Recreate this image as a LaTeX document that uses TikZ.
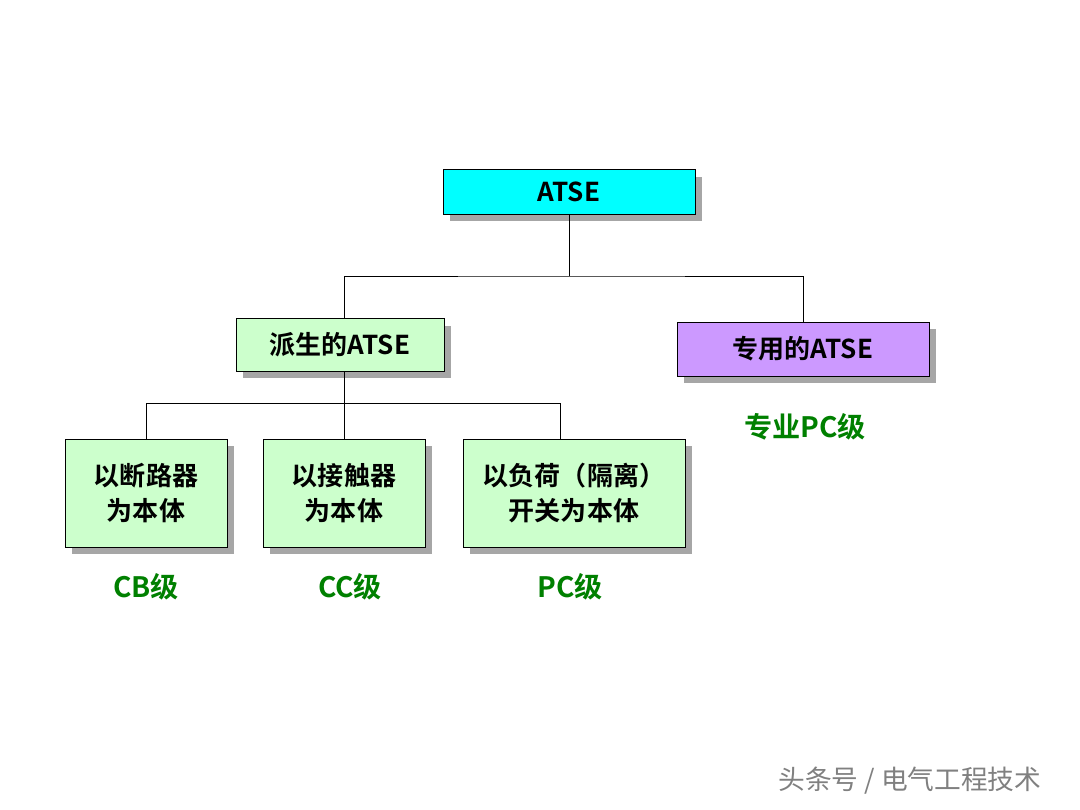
\documentclass[tikz,border=0pt]{standalone}
\usepackage{fontspec}
\setmainfont{Noto Sans CJK SC}[BoldFont={Noto Sans CJK SC Bold}]
\usetikzlibrary{positioning,shadows}
\definecolor{boxcyan}{RGB}{0,255,255}
\definecolor{boxgreen}{RGB}{204,255,204}
\definecolor{boxviolet}{RGB}{204,153,255}
\definecolor{labgreen}{RGB}{0,128,0}
\tikzset{
  box/.style={draw=black, semithick, align=center, inner sep=1pt,
    font=\bfseries\fontsize{18.5pt}{25pt}\selectfont,
    drop shadow={shadow xshift=5pt, shadow yshift=-5pt, fill=gray!70, opacity=1}},
  grade/.style={text=labgreen, font=\bfseries\fontsize{20pt}{24pt}\selectfont},
  link/.style={draw=black}
}
\begin{document}
\begin{tikzpicture}[x=0.025cm,y=-0.025cm]
\useasboundingbox[fill=white] (0,0) rectangle (1080,810);
% top
\node[box, fill=boxcyan, minimum width=6.3cm, minimum height=1.12cm] (atse) at (569,192) {ATSE};
% second level
\node[box, fill=boxgreen, minimum width=5.2cm, minimum height=1.32cm] (derived) at (340,345) {派生的ATSE};
\node[box, fill=boxviolet, minimum width=6.3cm, minimum height=1.35cm] (special) at (803,349) {专用的ATSE};
% third level
\node[box, fill=boxgreen, minimum width=4.05cm, minimum height=2.7cm] (cb) at (146,493) {以断路器\\为本体};
\node[box, fill=boxgreen, minimum width=4.05cm, minimum height=2.7cm] (cc) at (344,493) {以接触器\\为本体};
\node[box, fill=boxgreen, minimum width=5.55cm, minimum height=2.7cm] (pc) at (574,493) {以负荷（隔离）\\开关为本体};
% grades
\node[grade] (gsp) at (805,427) {专业PC级};
\node[grade] (gcb) at (146,587) {CB级};
\node[grade] (gcc) at (350,587) {CC级};
\node[grade] (gpc) at (570,587) {PC级};
% connectors
\coordinate (j1) at (569,276);
\coordinate (j2) at (344,403);
\draw[link] (atse.south) -- (j1);
\draw[link] (derived.north -| 344,0) |- (j1) -| (special.north);
\draw[link] (derived.south -| j2) -- (j2);
\draw[link] (cb.north) |- (j2) -| (cc.north);
\draw[link] (j2) -| ([xshift=-0.35cm]pc.north);
% watermark
\node[text=gray, font=\fontsize{19pt}{22pt}\selectfont] (mark) at (910,781) {头条号 / 电气工程技术};
\end{tikzpicture}
\end{document}
